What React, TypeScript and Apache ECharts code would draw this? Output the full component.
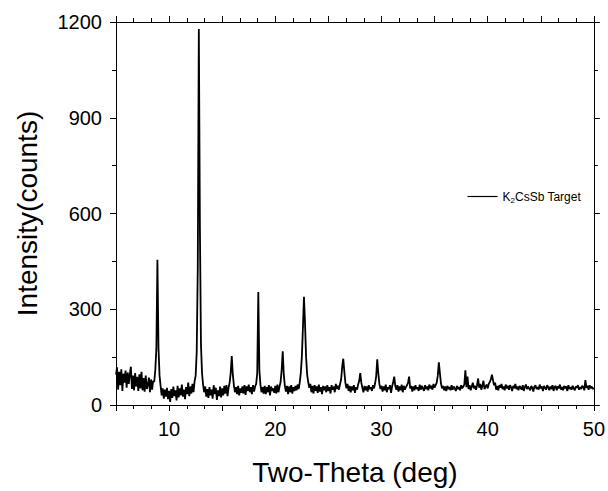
import React, { useEffect, useRef } from "react";
import * as echarts from "echarts";

// Sampling grid of the scan (two-theta, degrees)
const START_ANGLE = 5;
const STEP_ANGLE = 0.1;

// Intensity (counts), one row per degree (5.0 ... 49.9), then 50.0
const intensityRows: number[][] = [
  [95, 118, 48, 104, 62, 112, 44, 98, 70, 108],
  [54, 102, 66, 96, 120, 50, 92, 46, 100, 58],
  [88, 44, 96, 52, 104, 46, 84, 42, 92, 50],
  [62, 86, 40, 80, 48, 76, 72, 110, 175, 455],
  [180, 92, 60, 30, 52, 20, 48, 26, 54, 18],
  [44, 10, 50, 22, 58, 28, 46, 14, 60, 24],
  [52, 30, 64, 26, 48, 18, 56, 34, 70, 28],
  [58, 36, 66, 40, 74, 92, 165, 430, 1178, 560],
  [190, 100, 64, 40, 58, 26, 50, 22, 56, 30],
  [48, 20, 62, 34, 54, 16, 46, 28, 58, 24],
  [52, 30, 60, 36, 62, 28, 54, 70, 100, 153],
  [95, 62, 40, 56, 34, 60, 30, 52, 38, 58],
  [36, 62, 32, 58, 44, 64, 40, 56, 34, 62],
  [42, 58, 66, 100, 354, 110, 64, 40, 56, 36],
  [60, 34, 56, 40, 62, 30, 58, 44, 52, 38],
  [60, 36, 64, 40, 58, 72, 110, 168, 95, 60],
  [42, 60, 34, 58, 40, 62, 36, 56, 44, 60],
  [46, 64, 50, 70, 100, 150, 240, 339, 255, 150],
  [95, 72, 54, 66, 40, 60, 36, 62, 44, 58],
  [38, 64, 42, 56, 34, 60, 46, 58, 40, 62],
  [44, 56, 36, 62, 48, 58, 40, 66, 50, 60],
  [48, 66, 80, 120, 145, 105, 70, 52, 66, 44],
  [60, 40, 58, 46, 62, 38, 56, 48, 64, 75],
  [100, 70, 54, 40, 60, 46, 58, 42, 62, 50],
  [56, 44, 62, 52, 68, 90, 143, 100, 66, 50],
  [60, 42, 58, 46, 64, 40, 56, 50, 62, 38],
  [58, 72, 89, 60, 48, 62, 42, 58, 46, 64],
  [40, 60, 48, 56, 62, 70, 89, 52, 60, 42],
  [58, 46, 62, 50, 56, 44, 64, 48, 60, 52],
  [44, 62, 50, 58, 46, 64, 52, 60, 48, 66],
  [54, 62, 70, 92, 134, 100, 68, 52, 60, 46],
  [58, 44, 60, 50, 56, 46, 62, 48, 58, 52],
  [44, 60, 50, 56, 46, 62, 52, 58, 64, 109],
  [56, 89, 50, 62, 46, 58, 70, 52, 60, 48],
  [62, 83, 54, 66, 48, 60, 76, 50, 58, 64],
  [52, 66, 72, 80, 95, 78, 62, 70, 48, 60],
  [46, 62, 54, 66, 50, 58, 46, 64, 52, 60],
  [48, 62, 56, 44, 60, 52, 66, 50, 58, 46],
  [60, 54, 48, 62, 44, 56, 64, 50, 58, 52],
  [46, 60, 54, 42, 58, 62, 50, 56, 48, 64],
  [52, 58, 44, 60, 54, 48, 62, 56, 46, 58],
  [50, 62, 44, 56, 60, 46, 58, 52, 64, 48],
  [56, 46, 60, 52, 58, 44, 62, 50, 56, 48],
  [60, 52, 46, 58, 54, 62, 48, 56, 50, 60],
  [56, 46, 78, 54, 60, 48, 62, 52, 58, 50],
  [54],
];

const xTickLabels = [10, 20, 30, 40, 50];
const yTickLabels = [0, 300, 600, 900, 1200];

const seriesName = "K2CsSb Target";

const FONT = "'Liberation Sans', Arial, sans-serif";

export default function App() {
  const ref = useRef<HTMLDivElement>(null);

  useEffect(() => {
    if (!ref.current) return;
    const chart = echarts.init(ref.current, undefined, { renderer: "svg" });

    const intensities = intensityRows.flat();
    const data = intensities.map((v, i) => [
      Math.round((START_ANGLE + i * STEP_ANGLE) * 10) / 10,
      v,
    ]);

    const axisLine = { show: true, onZero: false, lineStyle: { color: "#000", width: 1 } };

    const xCommon = {
      type: "value" as const,
      min: 5,
      max: 50,
      interval: 5,
      splitLine: { show: false },
      axisLine,
      axisTick: { show: true, inside: false, length: 6, lineStyle: { color: "#000" } },
      minorTick: { show: true, splitNumber: 3, length: 4, lineStyle: { color: "#000" } },
    };
    const yCommon = {
      type: "value" as const,
      min: 0,
      max: 1200,
      interval: 300,
      splitLine: { show: false },
      axisLine,
      axisTick: { show: true, inside: false, length: 6, lineStyle: { color: "#000" } },
      minorTick: { show: true, splitNumber: 2, length: 4, lineStyle: { color: "#000" } },
    };

    chart.setOption({
      animation: false,
      backgroundColor: "#fff",
      grid: { left: 116, right: 12, top: 22, bottom: 79, containLabel: false },
      legend: {
        show: true,
        data: [seriesName],
        right: 22,
        top: 184,
        icon: "rect",
        itemWidth: 30,
        itemHeight: 1.2,
        itemGap: 5,
        formatter: () => "{a|K}{s|2}{a|CsSb Target}",
        textStyle: {
          color: "#000",
          fontFamily: FONT,
          rich: {
            a: { fontSize: 12, fontFamily: FONT, color: "#000", lineHeight: 15 },
            s: {
              fontSize: 8,
              fontFamily: FONT,
              color: "#000",
              verticalAlign: "bottom",
              lineHeight: 8,
              padding: [7, 0, 0, 0],
            },
          },
        },
      },
      xAxis: [
        {
          ...xCommon,
          position: "bottom",
          name: "Two-Theta (deg)",
          nameLocation: "middle",
          nameGap: 53,
          nameTextStyle: { fontSize: 28, fontFamily: FONT, color: "#000" },
          axisLabel: {
            show: true,
            margin: 14,
            fontSize: 20,
            fontFamily: FONT,
            color: "#000",
            formatter: (v: number) => (xTickLabels.includes(v) ? String(v) : ""),
          },
        },
        {
          ...xCommon,
          position: "top",
          axisLabel: { show: false },
        },
      ],
      yAxis: [
        {
          ...yCommon,
          position: "left",
          name: "Intensity(counts)",
          nameLocation: "middle",
          nameGap: 75,
          nameTextStyle: { fontSize: 28, fontFamily: FONT, color: "#000" },
          axisLabel: {
            show: true,
            margin: 14,
            fontSize: 20,
            fontFamily: FONT,
            color: "#000",
            formatter: (v: number) => (yTickLabels.includes(v) ? String(v) : ""),
          },
        },
        {
          ...yCommon,
          position: "right",
          axisLabel: { show: false },
        },
      ],
      series: [
        {
          name: seriesName,
          type: "line",
          xAxisIndex: 0,
          yAxisIndex: 0,
          data,
          showSymbol: false,
          symbol: "none",
          lineStyle: { color: "#000", width: 1.8 },
          itemStyle: { color: "#000" },
          emphasis: { disabled: true },
        },
      ],
    });

    return () => chart.dispose();
  }, []);

  return (
    <div
      ref={ref}
      style={{ position: "fixed", left: 0, top: 0, width: 608, height: 491, background: "#fff" }}
    />
  );
}
